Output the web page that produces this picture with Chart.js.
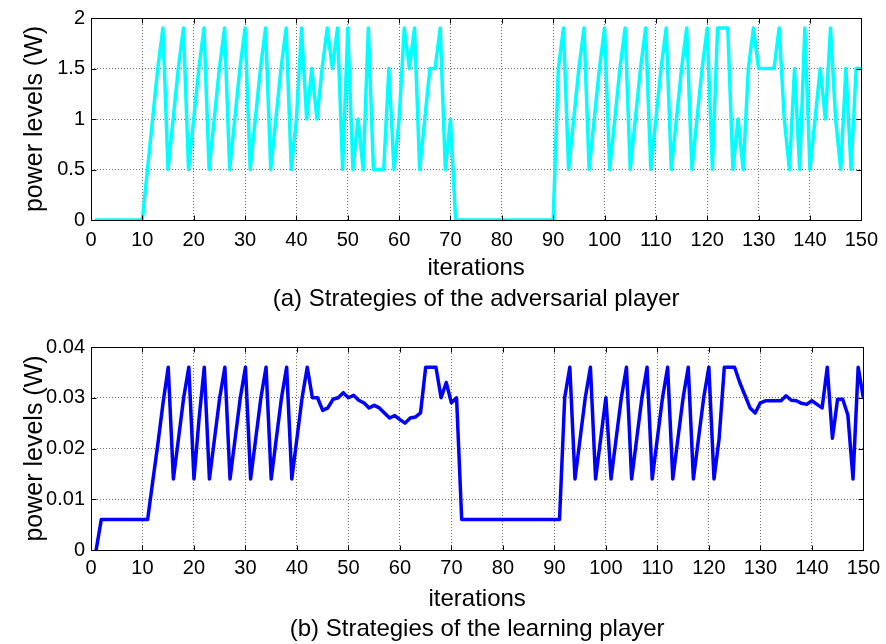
<!DOCTYPE html>
<html>
<head>
<meta charset="utf-8">
<script src="https://cdn.jsdelivr.net/npm/chart.js@4.4.0/dist/chart.umd.min.js"></script>
<style>
  html, body { margin: 0; padding: 0; background: #fff; }
  .panel { position: absolute; left: 0; width: 886px; height: 322px; }
</style>
</head>
<body>
<div class="panel" style="top:0"><canvas id="advChart"></canvas></div>
<div class="panel" style="top:322px"><canvas id="learnChart"></canvas></div>
<script>
// iterations 1..150
const iterations = Array.from({ length: 150 }, (_, i) => i + 1);

// (a) adversarial player, power in W
const adversarialPower = [
  0, 0, 0, 0, 0, 0, 0, 0, 0, 0,
  0.5, 1, 1.5, 1.9, 0.5, 1, 1.5, 1.9, 0.5, 1,
  1.5, 1.9, 0.5, 1, 1.5, 1.9, 0.5, 1, 1.5, 1.9,
  0.5, 1, 1.5, 1.9, 0.5, 1, 1.5, 1.9, 0.5, 1,
  1.9, 1, 1.5, 1, 1.5, 1.9, 1.5, 1.9, 0.5, 1.9,
  0.5, 1, 0.5, 1.9, 0.5, 0.5, 0.5, 1.5, 0.5, 1,
  1.9, 1.5, 1.9, 0.5, 1, 1.5, 1.5, 1.9, 0.5, 1,
  0, 0, 0, 0, 0, 0, 0, 0, 0, 0,
  0, 0, 0, 0, 0, 0, 0, 0, 0, 0,
  1.5, 1.9, 0.5, 1, 1.5, 1.9, 0.5, 1, 1.5, 1.9,
  0.5, 1, 1.5, 1.9, 0.5, 1, 1.5, 1.9, 0.5, 1,
  1.5, 1.9, 0.5, 1, 1.5, 1.9, 0.5, 1, 1.5, 1.9,
  0.5, 1.9, 1.9, 1.9, 0.5, 1, 0.5, 1.5, 1.9, 1.5,
  1.5, 1.5, 1.5, 1.9, 1, 0.5, 1.5, 0.5, 1.9, 0.5,
  1, 1.5, 1, 1.9, 1, 0.5, 1.5, 0.5, 1.5, 1.5
];

// (b) learning player, power in W
const learningPower = [
  0, 0.006, 0.006, 0.006, 0.006, 0.006, 0.006, 0.006, 0.006, 0.006,
  0.006, 0.0136, 0.021, 0.029, 0.036, 0.014, 0.022, 0.030, 0.036, 0.014,
  0.026, 0.036, 0.014, 0.022, 0.030, 0.036, 0.014, 0.022, 0.030, 0.036,
  0.014, 0.022, 0.030, 0.036, 0.014, 0.022, 0.030, 0.036, 0.014, 0.022,
  0.030, 0.036, 0.030, 0.030, 0.0275, 0.028, 0.0297, 0.030, 0.031, 0.030,
  0.0305, 0.0295, 0.029, 0.028, 0.0285, 0.028, 0.027, 0.026, 0.0265, 0.0257,
  0.025, 0.026, 0.0262, 0.027, 0.036, 0.036, 0.036, 0.030, 0.033, 0.029,
  0.030, 0.006, 0.006, 0.006, 0.006, 0.006, 0.006, 0.006, 0.006, 0.006,
  0.006, 0.006, 0.006, 0.006, 0.006, 0.006, 0.006, 0.006, 0.006, 0.006,
  0.006, 0.030, 0.036, 0.014, 0.022, 0.030, 0.036, 0.014, 0.022, 0.030,
  0.014, 0.022, 0.030, 0.036, 0.014, 0.022, 0.030, 0.036, 0.014, 0.022,
  0.030, 0.036, 0.014, 0.022, 0.030, 0.036, 0.014, 0.022, 0.030, 0.036,
  0.014, 0.022, 0.036, 0.036, 0.036, 0.033, 0.0305, 0.028, 0.027, 0.029,
  0.0294, 0.0294, 0.0294, 0.0294, 0.0304, 0.0295, 0.0294, 0.0289, 0.0287, 0.0294,
  0.0287, 0.028, 0.036, 0.022, 0.0297, 0.0297, 0.0266, 0.014, 0.036, 0.030
];

const adversarialTicks = ['0', '0.5', '1', '1.5', '2'];
const learningTicks = ['0', '0.01', '0.02', '0.03', '0.04'];

Chart.defaults.font.family = '"Liberation Sans", Arial, sans-serif';
Chart.defaults.color = '#000';

// matlab style frame with inward tick marks
const frameTicks = {
  id: 'frameTicks',
  afterDraw(chart) {
    const { ctx, chartArea: a, scales: { x, y } } = chart;
    const L = Math.round(a.left) + 0.5, R = Math.round(a.right) + 0.5;
    const T = Math.round(a.top) + 0.5, B = Math.round(a.bottom) + 0.5;
    ctx.save();
    ctx.strokeStyle = '#000';
    ctx.lineWidth = 1;
    ctx.beginPath();
    x.ticks.forEach(t => {
      const px = Math.round(x.getPixelForValue(t.value)) + 0.5;
      ctx.moveTo(px, T); ctx.lineTo(px, T + 5);
      ctx.moveTo(px, B); ctx.lineTo(px, B - 5);
    });
    y.ticks.forEach(t => {
      const py = Math.round(y.getPixelForValue(t.value)) + 0.5;
      ctx.moveTo(L, py); ctx.lineTo(L + 5, py);
      ctx.moveTo(R, py); ctx.lineTo(R - 5, py);
    });
    ctx.stroke();
    ctx.strokeRect(L, T, R - L, B - T);
    ctx.restore();
  }
};

// caption goes under the x title so both are centred on the axes
function makeChart(id, values, color, yMax, yStep, yLabels, caption, lay) {
  return new Chart(document.getElementById(id), {
    type: 'line',
    data: {
      datasets: [{
        data: iterations.map((it, i) => ({ x: it, y: values[i] })),
        borderColor: color,
        borderWidth: 3.5,
        borderJoinStyle: 'round',
        borderCapStyle: 'round',
        pointRadius: 0,
        tension: 0,
        fill: false
      }]
    },
    options: {
      responsive: true,
      maintainAspectRatio: false,
      animation: false,
      layout: { padding: { left: 0, right: 19, top: lay.top, bottom: 0 } },
      plugins: {
        legend: { display: false },
        tooltip: { enabled: false }
      },
      scales: {
        x: {
          type: 'linear',
          min: 0,
          max: 150,
          afterFit: s => { s.height = lay.xHeight; },
          ticks: { stepSize: 10, padding: lay.tickPad, font: { size: 20 } },
          grid: { color: 'rgba(0,0,0,0.55)', drawTicks: false },
          border: { display: false, dash: [1, 2] },
          title: {
            display: true,
            text: ['iterations', caption],
            font: { size: 24, lineHeight: lay.lineH },
            padding: { top: 0, bottom: lay.xTitlePad }
          }
        },
        y: {
          min: 0,
          max: yMax,
          afterFit: s => { s.width = 91; },
          ticks: { stepSize: yStep, padding: 6, font: { size: 20 }, callback: (v, i) => yLabels[i] },
          grid: { color: 'rgba(0,0,0,0.55)', drawTicks: false },
          border: { display: false, dash: [1, 2] },
          title: { display: true, text: 'power levels (W)', font: { size: 25 }, padding: { top: 20, bottom: 0 } }
        }
      }
    },
    plugins: [frameTicks]
  });
}

makeChart('advChart', adversarialPower, '#00ffff', 2, 0.5, adversarialTicks,
  '(a) Strategies of the adversarial player',
  { top: 15, xHeight: 102, tickPad: 8, lineH: 1.29, xTitlePad: 7.5 });

makeChart('learnChart', learningPower, '#0000ff', 0.04, 0.01, learningTicks,
  '(b) Strategies of the learning player',
  { top: 25, xHeight: 94, tickPad: 6, lineH: 1.25, xTitlePad: 0 });
</script>
</body>
</html>
